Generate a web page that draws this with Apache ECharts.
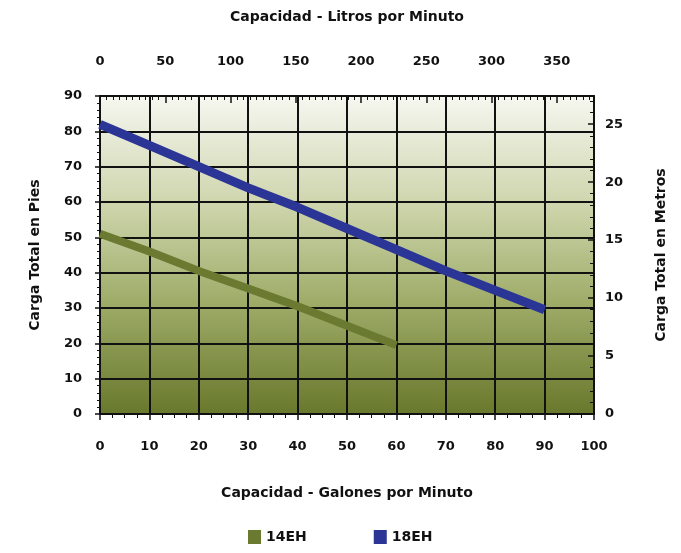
<!DOCTYPE html>
<html><head><meta charset="utf-8">
<script src="https://cdn.jsdelivr.net/npm/echarts@6/dist/echarts.min.js"></script>
<style>html,body{margin:0;padding:0;background:#fff}#c{width:681px;height:553px}</style>
</head><body><div id="c"></div>
<script>
var gpm = [0, 10, 20, 30, 40, 50, 60, 70, 80, 90];
var s14EH = [51, 46, 40.5, 35.5, 30.5, 25, 19.5];
var s18EH = [82, 76, 70, 64, 58.5, 52.5, 46.5, 40.5, 35, 29.5];
var seriesNames = ['14EH', '18EH'];
var seriesColors = ['#6a7a30', '#2b3596'];
var lpmMax = 100 * 3.78541;
var mMax = 90 * 0.3048;

function pairs(xs, ys){ return ys.map(function(v,i){ return [xs[i], v]; }); }

var chart = echarts.init(document.getElementById('c'));
var font = 'DejaVu Sans';
var lab = {color:'#111', fontFamily:font, fontWeight:'bold', fontSize:13};
var nameStyle = {color:'#111', fontFamily:font, fontWeight:'bold', fontSize:14};
var axLine = {show:true, onZero:false, lineStyle:{color:'#111', width:2}};
chart.setOption({
  animation:false,
  grid:{left:100, right:87, top:96, bottom:139, show:true, borderWidth:0,
    backgroundColor:new echarts.graphic.LinearGradient(0,0,0,1,[
      {offset:0, color:'#f6f7f0'},
      {offset:0.35, color:'#cdd4ab'},
      {offset:0.65, color:'#9eac68'},
      {offset:1, color:'#68782c'}])},
  legend:{bottom:4, left:243, itemGap:67, icon:'rect', itemWidth:13, itemHeight:14,
    textStyle:{color:'#111', fontFamily:font, fontWeight:'bold', fontSize:14},
    data:seriesNames},
  xAxis:[
    {type:'value', position:'bottom', min:0, max:100, interval:10,
     name:'Capacidad - Galones por Minuto', nameLocation:'middle', nameGap:72, nameTextStyle:nameStyle,
     axisLine:axLine, axisTick:{show:true, length:6, lineStyle:{color:'#111', width:1.5}},
     minorTick:{show:true, splitNumber:4, length:4, lineStyle:{color:'#111'}},
     axisLabel:Object.assign({margin:26}, lab),
     splitLine:{show:true, lineStyle:{color:'#111', width:2}}},
    {type:'value', position:'top', min:0, max:lpmMax, interval:50,
     name:'Capacidad - Litros por Minuto', nameLocation:'middle', nameGap:72, nameTextStyle:nameStyle,
     axisLine:axLine, axisTick:{show:true, inside:true, length:7, lineStyle:{color:'#111', width:1.5}},
     minorTick:{show:true, splitNumber:10, length:4, lineStyle:{color:'#111'}},
     axisLabel:Object.assign({margin:28, showMaxLabel:false}, lab),
     splitLine:{show:false}}
  ],
  yAxis:[
    {type:'value', position:'left', min:0, max:90, interval:10,
     name:'Carga Total en Pies', nameLocation:'middle', nameGap:58, nameTextStyle:nameStyle,
     axisLine:axLine, axisTick:{show:true, length:5, lineStyle:{color:'#111', width:1.5}},
     minorTick:{show:true, splitNumber:5, length:3, lineStyle:{color:'#111'}},
     axisLabel:Object.assign({margin:18}, lab),
     splitLine:{show:true, lineStyle:{color:'#111', width:2}}},
    {type:'value', position:'right', min:0, max:mMax, interval:5,
     name:'Carga Total en Metros', nameLocation:'middle', nameGap:60, nameTextStyle:nameStyle,
     axisLine:axLine, axisTick:{show:true, inside:true, length:6, lineStyle:{color:'#111', width:1.5}},
     minorTick:{show:true, splitNumber:5, length:4, lineStyle:{color:'#111'}},
     axisLabel:Object.assign({margin:11, showMaxLabel:false}, lab),
     splitLine:{show:false}}
  ],
  series:[
    {name:seriesNames[0], type:'line', xAxisIndex:0, yAxisIndex:0, data:pairs(gpm, s14EH),
     showSymbol:false, symbol:'none', color:seriesColors[0], lineStyle:{width:8, color:seriesColors[0]}},
    {name:seriesNames[1], type:'line', xAxisIndex:0, yAxisIndex:0, data:pairs(gpm, s18EH),
     showSymbol:false, symbol:'none', color:seriesColors[1], lineStyle:{width:9, color:seriesColors[1]}}
  ]
});
</script></body></html>
